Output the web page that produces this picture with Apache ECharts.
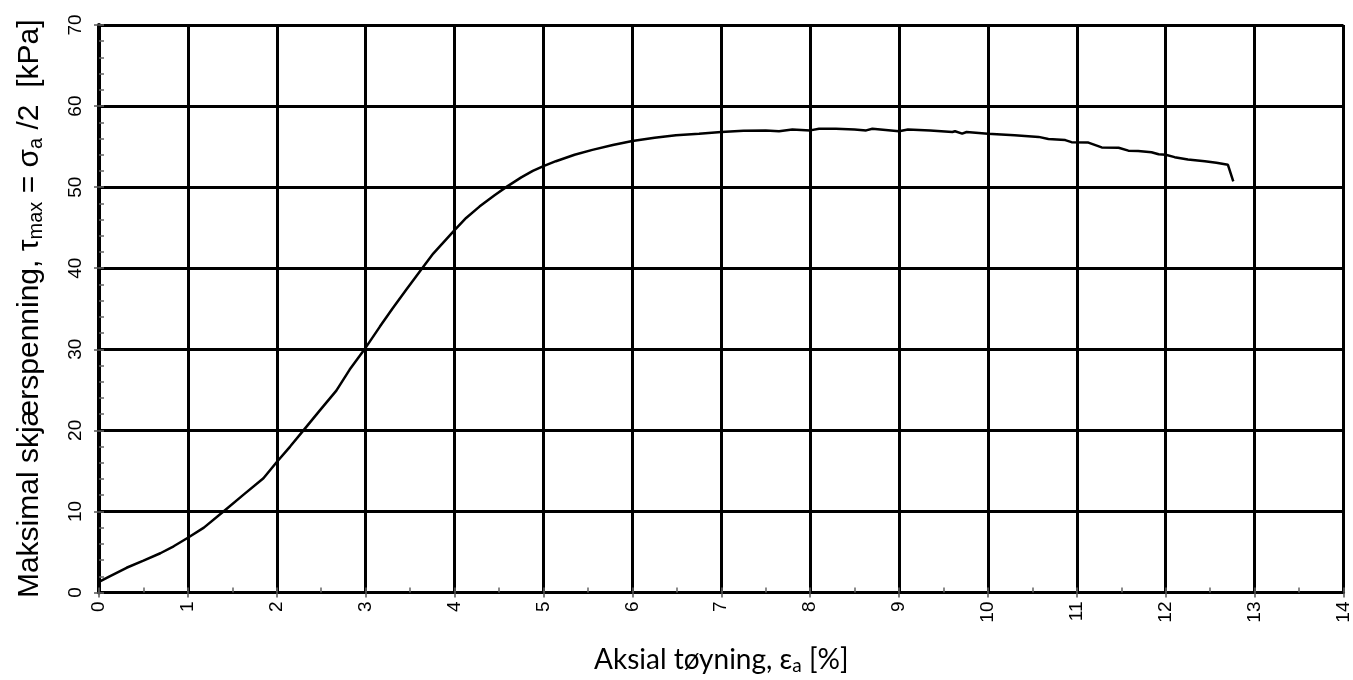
<!DOCTYPE html>
<html>
<head>
<meta charset="utf-8">
<script src="https://cdn.jsdelivr.net/npm/echarts@6/dist/echarts.min.js"></script>
<style>
html,body{margin:0;padding:0;background:#fff;}
#chart{width:1353px;height:680px;}
</style>
</head>
<body>
<div id="chart"></div>
<script>
// Axial strain (%) and max shear stress (kPa)
const strain = [0, 0.12, 0.31, 0.5, 0.69, 0.84, 1.0, 1.18, 1.40, 1.63, 1.85, 2.0, 2.15, 2.30, 2.48, 2.67, 2.82, 3.0, 3.16, 3.3, 3.46, 3.64, 3.76, 4.0, 4.13, 4.28, 4.45, 4.58, 4.75, 4.88, 5.0, 5.14, 5.35, 5.55, 5.78, 6.0, 6.25, 6.49, 6.75, 7.0, 7.25, 7.5, 7.65, 7.8, 8.0, 8.1, 8.29, 8.5, 8.63, 8.7, 9.0, 9.1, 9.35, 9.6, 9.63, 9.71, 9.76, 10.0, 10.3, 10.57, 10.68, 10.87, 10.94, 11.13, 11.28, 11.47, 11.58, 11.69, 11.84, 11.92, 12.0, 12.1, 12.25, 12.44, 12.57, 12.7, 12.76];
const shear = [1.3, 2.0, 3.05, 3.94, 4.84, 5.7, 6.75, 8.0, 10.0, 12.1, 14.1, 16.1, 18.0, 20.0, 22.4, 24.9, 27.5, 30.2, 32.8, 35.0, 37.4, 40.05, 41.8, 44.7, 46.2, 47.6, 49.0, 50.0, 51.2, 52.0, 52.6, 53.2, 54.0, 54.6, 55.2, 55.7, 56.1, 56.4, 56.6, 56.8, 56.95, 57.0, 56.9, 57.1, 57.0, 57.2, 57.2, 57.1, 57.0, 57.2, 56.9, 57.1, 57.0, 56.8, 56.9, 56.6, 56.8, 56.6, 56.4, 56.2, 55.95, 55.8, 55.55, 55.5, 54.9, 54.86, 54.5, 54.45, 54.3, 54.05, 54.0, 53.7, 53.4, 53.2, 53.0, 52.75, 50.7];
const xTicks = [0, 1, 2, 3, 4, 5, 6, 7, 8, 9, 10, 11, 12, 13, 14];
const yTicks = [0, 10, 20, 30, 40, 50, 60, 70];

const chart = echarts.init(document.getElementById('chart'));
const pts = strain.map((x, i) => [x, shear[i]]);
const baseFont = "'Liberation Sans', Arial, sans-serif";
const titleFont = "Lato, 'Open Sans', sans-serif";

const option = {
  animation: false,
  backgroundColor: '#fff',
  textStyle: {fontFamily: baseFont},
  grid: {left: 99, right: 8, top: 25, bottom: 84},
  xAxis: [
    {
      type: 'value', min: xTicks[0], max: xTicks[xTicks.length - 1], interval: 1,
      position: 'bottom',
      axisLine: {show: true, lineStyle: {color: '#3a3a3a', width: 2}},
      axisTick: {show: true, inside: false, length: 5, lineStyle: {color: '#555', width: 1.5}},
      axisLabel: {rotate: 90, margin: 9, color: '#000', fontSize: 19, fontFamily: baseFont},
      splitLine: {show: true, lineStyle: {color: '#000', width: 3}},
      name: '{t|Aksial tøyning, ε}{s|a}{t| [%]}',
      nameLocation: 'middle', nameGap: 50,
      nameTextStyle: {
        fontSize: 28, fontFamily: titleFont,
        rich: {
          t: {fontSize: 28, fontFamily: titleFont, color: '#000', lineHeight: 34},
          s: {fontSize: 19, fontFamily: titleFont, color: '#000', lineHeight: 34, padding: [12, 0, 0, 0]}
        }
      }
    },
    {
      type: 'value', min: 0, max: 14, interval: 0.5, position: 'bottom',
      axisLine: {show: false},
      axisTick: {show: true, inside: true, length: 5, lineStyle: {color: '#666', width: 1.5}},
      axisLabel: {show: false}, splitLine: {show: false}
    },
    {
      type: 'value', min: 0, max: 14, position: 'top',
      axisLine: {show: true, lineStyle: {color: '#000', width: 3}},
      axisTick: {show: false}, axisLabel: {show: false}, splitLine: {show: false}
    }
  ],
  yAxis: [
    {
      type: 'value', min: yTicks[0], max: yTicks[yTicks.length - 1], interval: 10,
      position: 'left',
      axisLine: {show: true, lineStyle: {color: '#3a3a3a', width: 2}},
      axisTick: {show: true, inside: false, length: 5, lineStyle: {color: '#555', width: 1.5}},
      axisLabel: {rotate: 90, margin: 14, color: '#000', fontSize: 19, fontFamily: baseFont},
      splitLine: {show: true, lineStyle: {color: '#000', width: 3}},
      name: '{t|Maksimal skjærspenning, τ}{s|max}{t| = σ}{s|a}{t| /2  [kPa]}',
      nameLocation: 'middle', nameGap: 51, nameRotate: 90,
      nameTextStyle: {
        fontSize: 30, fontFamily: baseFont,
        rich: {
          t: {fontSize: 30, fontFamily: baseFont, color: '#000', lineHeight: 36},
          s: {fontSize: 20, fontFamily: baseFont, color: '#000', lineHeight: 36, padding: [13, 0, 0, 0]}
        }
      }
    },
    {
      type: 'value', min: 0, max: 70, interval: 2, position: 'left',
      axisLine: {show: false},
      axisTick: {show: true, inside: true, length: 5, lineStyle: {color: '#666', width: 1.5}},
      axisLabel: {show: false}, splitLine: {show: false}
    },
    {
      type: 'value', min: 0, max: 70, position: 'right',
      axisLine: {show: true, lineStyle: {color: '#000', width: 4}},
      axisTick: {show: false}, axisLabel: {show: false}, splitLine: {show: false}
    }
  ],
  series: [{
    type: 'line', xAxisIndex: 0, yAxisIndex: 0,
    data: pts, showSymbol: false, symbol: 'none',
    lineStyle: {color: '#000', width: 2.5}, z: 5
  }]
};
chart.setOption(option);
</script>
</body>
</html>
